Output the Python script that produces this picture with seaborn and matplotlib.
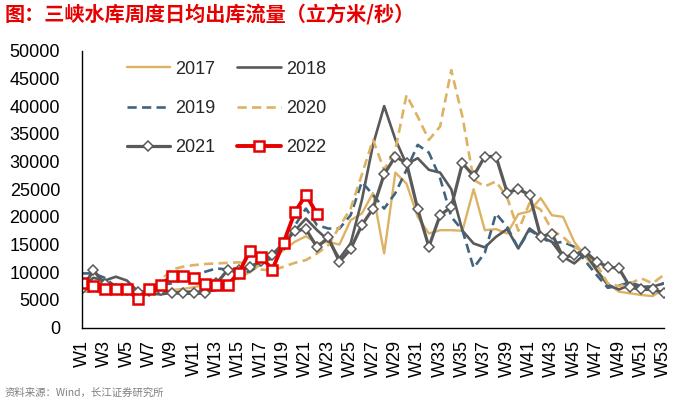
import numpy as np
import pandas as pd
import matplotlib
matplotlib.use("Agg")
import matplotlib.pyplot as plt
import seaborn as sns

# ---- data (m3/s) ----
weeks = [f"W{i}" for i in range(1, 54)]

y2017 = [6500, 7500, 8500, 6500, 6200, 6000, 6200, 6500, 6800, 7000,
         7300, 7800, 8000, 8200, 9000, 10000, 11500, 12500, 14000, 15500,
         16500, 15200, 15500, 15000, 19400, 20600, 24300, 13400, 28000, 26000,
         20000, 17000, 17600, 17600, 17500, 25000, 17600, 17800, 17000, 20500,
         21000, 23400, 20300, 20000, 15500, 12800, 10400, 8000, 6500, 6200,
         5900, 5700, 6900]
y2018 = [7500, 9000, 8500, 9200, 8500, 6500, 6200, 6000, 6300, 6500,
         6500, 6500, 6800, 7500, 10000, 11000, 12000, 12500, 15000, 17500,
         19700, 17600, 15800, 12500, 15200, 23000, 33000, 40000, 34000, 29500,
         30600, 28500, 28000, 25000, 17500, 15200, 14500, 16400, 17800, 14300,
         17900, 16400, 15500, 12800, 11600, 13400, 10400, 7700, 6900, 7700,
         7400, 7400, 8000]
y2019 = [9800, 9800, 9000, 7400, 6500, 6200, 7000, 7700, 8000, 8800,
         9500, 10100, 10700, 10500, 9800, 10200, 11500, 12700, 14000, 18400,
         21500, 18500, 17900, 17900, 20300, 26300, 24000, 21500, 24300, 28500,
         33000, 31600, 27000, 20000, 17600, 10800, 13500, 20600, 18200, 14300,
         17600, 16400, 15200, 15500, 14600, 12000, 9500, 7200, 7600, 8200,
         7500, 7300, 8000]
y2020 = [6500, 6500, 6400, 6300, 6300, 6300, 6800, 8500, 10500, 11000,
         11300, 11500, 11600, 11700, 11800, 11500, 10500, 10300, 11000, 11700,
         12200, 13400, 14900, 18200, 21500, 27600, 33900, 28500, 32100, 42000,
         38100, 33900, 36300, 46500, 38100, 26700, 25500, 26400, 23500, 17500,
         22500, 21300, 17600, 16400, 14500, 13700, 11400, 8000, 7500, 8000,
         8900, 8000, 9500]
y2021 = [7000, 10400, 7800, 7000, 6800, 6400, 6600, 6800, 6300, 6200,
         6200, 6200, 8000, 10400, 10500, 10900, 12000, 13200, 15200, 17500,
         17800, 14500, 16300, 11900, 14200, 18500, 21500, 27700, 30900, 29700,
         21400, 14600, 20300, 21800, 29700, 27400, 30900, 30900, 24400, 25000,
         24000, 16400, 17000, 12700, 13100, 13700, 11900, 11000, 10700, 7300,
         6900, 6900, 6300]
y2022 = [8100, 7600, 7000, 6900, 6900, 5100, 6900, 7700, 9300, 9300,
         9000, 7900, 7700, 7700, 9900, 13900, 12800, 10500, 15300, 20800,
         24000, 20500]

GOLD = "#DDB264"
GRAY = "#595959"
BLUE = "#41647E"
RED = "#E60000"

sns.set_style("white")
plt.rcParams["font.family"] = ["Liberation Sans", "Noto Sans CJK SC", "DejaVu Sans"]

fig = plt.figure(figsize=(6.85, 4.05), dpi=100)
ax = fig.add_axes([0.1201, 0.1909, 0.8488, 0.6839])

idx = np.arange(len(weeks))


def draw(vals, label, **kw):
    sns.lineplot(x=idx[:len(vals)], y=vals, ax=ax, label=label, **kw)


draw(y2017, "2017", color=GOLD, lw=1.7)
draw(y2018, "2018", color=GRAY, lw=1.9)
draw(y2019, "2019", color=BLUE, lw=1.9, linestyle=(0, (3.5, 2)))
draw(y2020, "2020", color=GOLD, lw=1.9, linestyle=(0, (3.5, 2)))
draw(y2021, "2021", color=GRAY, lw=2.3, marker="D", markersize=5,
     markerfacecolor="white", markeredgecolor=GRAY, markeredgewidth=1.1)
draw(y2022, "2022", color=RED, lw=2.8, marker="s", markersize=7,
     markerfacecolor="white", markeredgecolor=RED, markeredgewidth=1.8)

ax.set_xlim(0, len(weeks) - 1)
ax.set_ylim(0, 50000)
ax.set_yticks(np.arange(0, 50001, 5000))
ax.set_xticks(idx)
ax.set_xticklabels([w if i % 2 == 0 else "" for i, w in enumerate(weeks)], rotation=90)
ax.tick_params(axis="y", direction="in", length=4, width=1, pad=16, labelsize=13, colors="black")
ax.tick_params(axis="x", direction="in", length=4, width=1, pad=9, labelsize=13, colors="black")
ax.set_xlabel("")
ax.set_ylabel("")
for s in ["top", "right"]:
    ax.spines[s].set_visible(False)
for s in ["left", "bottom"]:
    ax.spines[s].set_color("black")
    ax.spines[s].set_linewidth(1)

# legend filled row by row: 2017 2018 / 2019 2020 / 2021 2022
handles, labels = ax.get_legend_handles_labels()
order = [0, 2, 4, 1, 3, 5]
ax.legend([handles[i] for i in order], [labels[i] for i in order],
          loc="upper left", bbox_to_anchor=(0.185, 0.85), bbox_transform=fig.transFigure,
          ncol=2, frameon=False, fontsize=13, handlelength=2.4, handletextpad=0.3,
          columnspacing=1.2, labelspacing=1.23, borderpad=0, borderaxespad=0)

fig.text(0.006, 0.988, "图：三峡水库周度日均出库流量（立方米/秒）", color=RED,
         fontsize=14.5, fontweight="heavy", va="top", ha="left",
         family=["Noto Sans CJK SC", "DejaVu Sans"])
fig.text(0.006, 0.03, "资料来源：Wind，长江证券研究所", color="#7F7F7F",
         fontsize=7.5, va="center", ha="left", family=["Noto Sans CJK SC", "DejaVu Sans"])

fig.savefig("out.png", dpi=100)
